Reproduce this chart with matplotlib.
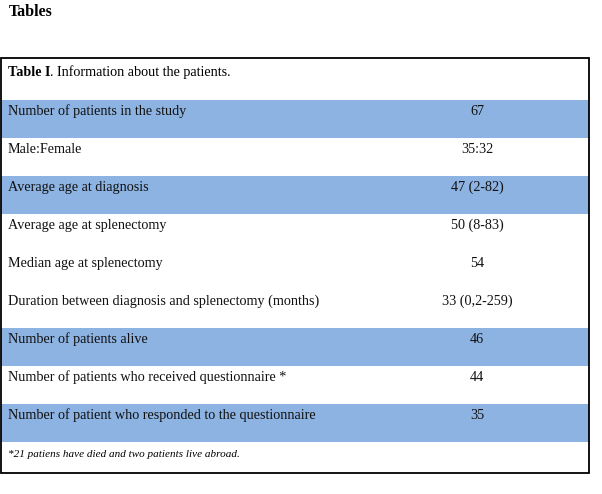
import matplotlib.pyplot as plt
from matplotlib.patches import Rectangle

labels = ["Number of patients in the study",
          "Male:Female",
          "Average age at diagnosis",
          "Average age at splenectomy",
          "Median age at splenectomy",
          "Duration between diagnosis and splenectomy (months)",
          "Number of patients alive",
          "Number of patients who received questionnaire *",
          "Number of patient who responded to the questionnaire"]
values = ["67", "35:32", "47 (2-82)", "50 (8-83)", "54", "33 (0,2-259)",
          "46", "44", "35"]
shaded = [True, False, True, False, False, False, True, False, True]

title = "Tables"
caption_bold = "Table I"
caption_rest = ". Information about the patients."
footnote = "*21 patiens have died and two patients live abroad."

blue = "#8db3e2"
plt.rcParams['font.family'] = ['Liberation Serif', 'DejaVu Serif']

fig = plt.figure(figsize=(6.02, 4.94), dpi=100)
ax = fig.add_axes([0, 0, 1, 1])
ax.set_xlim(0, 602)
ax.set_ylim(494, 0)
ax.axis('off')

left, right = 1, 589
top, head_h, row_h, foot_h = 58, 42, 38, 31

ax.text(9, 12, title, fontsize=11.5, fontweight='bold', va='center', ha='left')

t = ax.text(8, 72, caption_bold, fontsize=10.2, fontweight='bold', va='center', ha='left')
fig.canvas.draw()
bb = t.get_window_extent().transformed(ax.transData.inverted())
ax.text(bb.x1, 72, caption_rest, fontsize=10.2, va='center', ha='left')

y0 = top + head_h
for i, (lab, val) in enumerate(zip(labels, values)):
    y = y0 + i * row_h
    if shaded[i]:
        ax.add_patch(Rectangle((left, y), right - left, row_h, facecolor=blue, edgecolor='none'))
    ax.text(8, y + 11, lab, fontsize=10.2, va='center', ha='left', color='#111111')
    ax.text(477, y + 11, val, fontsize=10.2, va='center', ha='center', color='#111111')

yf = y0 + len(labels) * row_h
ax.text(8, yf + 12, footnote, fontsize=8, style='italic', va='center', ha='left')

bottom = yf + foot_h
ax.add_patch(Rectangle((left, top), right - left, bottom - top, facecolor='none',
                       edgecolor='black', linewidth=1.3))

fig.savefig('out.png', dpi=100)
